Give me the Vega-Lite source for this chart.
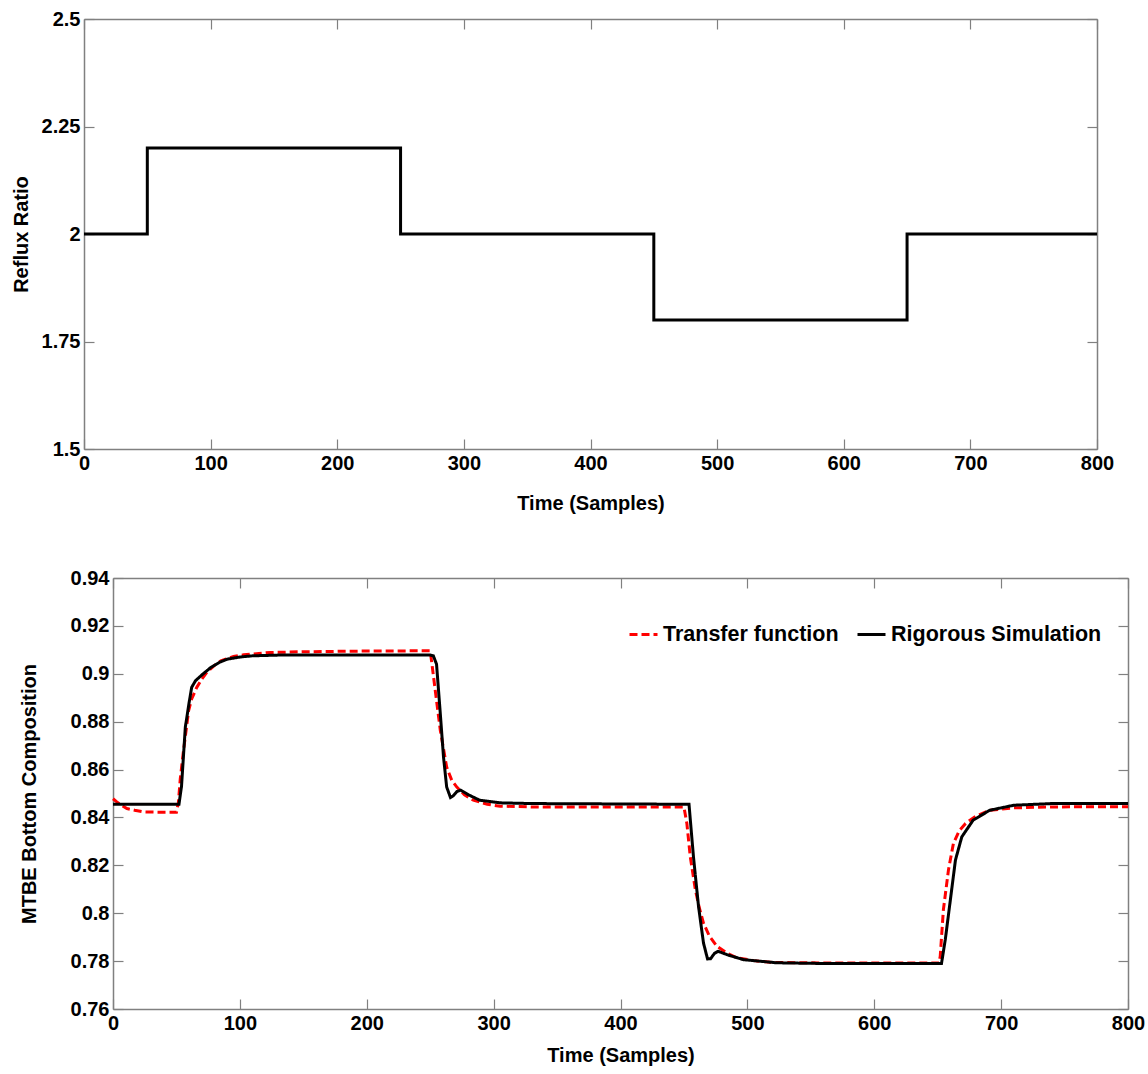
{
  "$schema": "https://vega.github.io/schema/vega-lite/v6.json",
  "background": "white",
  "width": 1148,
  "height": 1074,
  "autosize": {"type": "none"},
  "padding": 0,
  "datasets": {
    "reflux": [
      {"t": 0, "r": 2.0}, {"t": 50, "r": 2.2}, {"t": 250, "r": 2.0}, {"t": 450, "r": 1.8}, {"t": 650, "r": 2.0}, {"t": 800, "r": 2.0}
    ],
    "tf": [
      {"t": 0, "v": 0.8478, "s": "Transfer function"}, {"t": 3, "v": 0.8465, "s": "Transfer function"}, {"t": 7, "v": 0.845, "s": "Transfer function"},
      {"t": 11, "v": 0.8437, "s": "Transfer function"}, {"t": 17, "v": 0.843, "s": "Transfer function"}, {"t": 24, "v": 0.8423, "s": "Transfer function"},
      {"t": 35, "v": 0.8422, "s": "Transfer function"}, {"t": 50, "v": 0.8422, "s": "Transfer function"}, {"t": 51.5, "v": 0.846, "s": "Transfer function"},
      {"t": 53, "v": 0.856, "s": "Transfer function"}, {"t": 55.6, "v": 0.868, "s": "Transfer function"}, {"t": 59.6, "v": 0.8846, "s": "Transfer function"},
      {"t": 62, "v": 0.8895, "s": "Transfer function"}, {"t": 66, "v": 0.8943, "s": "Transfer function"}, {"t": 70, "v": 0.8978, "s": "Transfer function"},
      {"t": 74, "v": 0.9006, "s": "Transfer function"}, {"t": 80, "v": 0.9035, "s": "Transfer function"}, {"t": 85, "v": 0.9054, "s": "Transfer function"},
      {"t": 95, "v": 0.9072, "s": "Transfer function"}, {"t": 103, "v": 0.9079, "s": "Transfer function"}, {"t": 115, "v": 0.9085, "s": "Transfer function"},
      {"t": 124, "v": 0.9089, "s": "Transfer function"}, {"t": 150, "v": 0.9092, "s": "Transfer function"}, {"t": 200, "v": 0.9095, "s": "Transfer function"},
      {"t": 250, "v": 0.9096, "s": "Transfer function"}, {"t": 251.4, "v": 0.904, "s": "Transfer function"}, {"t": 254, "v": 0.893, "s": "Transfer function"},
      {"t": 258, "v": 0.8763, "s": "Transfer function"}, {"t": 263, "v": 0.861, "s": "Transfer function"}, {"t": 267, "v": 0.8555, "s": "Transfer function"},
      {"t": 271, "v": 0.8527, "s": "Transfer function"}, {"t": 277, "v": 0.8495, "s": "Transfer function"}, {"t": 284, "v": 0.8472, "s": "Transfer function"},
      {"t": 295, "v": 0.8455, "s": "Transfer function"}, {"t": 305, "v": 0.8447, "s": "Transfer function"}, {"t": 330, "v": 0.8444, "s": "Transfer function"},
      {"t": 450, "v": 0.8444, "s": "Transfer function"}, {"t": 452.3, "v": 0.8375, "s": "Transfer function"}, {"t": 455, "v": 0.8236, "s": "Transfer function"},
      {"t": 459, "v": 0.8098, "s": "Transfer function"}, {"t": 462, "v": 0.8025, "s": "Transfer function"}, {"t": 465.4, "v": 0.7959, "s": "Transfer function"},
      {"t": 470, "v": 0.7905, "s": "Transfer function"}, {"t": 476, "v": 0.7862, "s": "Transfer function"}, {"t": 484, "v": 0.7833, "s": "Transfer function"},
      {"t": 491.7, "v": 0.7814, "s": "Transfer function"}, {"t": 505, "v": 0.7802, "s": "Transfer function"}, {"t": 518, "v": 0.7795, "s": "Transfer function"},
      {"t": 560, "v": 0.7792, "s": "Transfer function"}, {"t": 651, "v": 0.7792, "s": "Transfer function"}, {"t": 652, "v": 0.782, "s": "Transfer function"},
      {"t": 654.5, "v": 0.8015, "s": "Transfer function"}, {"t": 658.5, "v": 0.8181, "s": "Transfer function"}, {"t": 662.4, "v": 0.8292, "s": "Transfer function"},
      {"t": 667, "v": 0.8345, "s": "Transfer function"}, {"t": 672, "v": 0.8375, "s": "Transfer function"}, {"t": 680, "v": 0.8405, "s": "Transfer function"},
      {"t": 691, "v": 0.843, "s": "Transfer function"}, {"t": 710, "v": 0.844, "s": "Transfer function"}, {"t": 740, "v": 0.8444, "s": "Transfer function"},
      {"t": 800, "v": 0.8445, "s": "Transfer function"}
    ],
    "rs": [
      {"t": 0, "v": 0.8455, "s": "Rigorous Simulation"}, {"t": 52, "v": 0.8455, "s": "Rigorous Simulation"}, {"t": 54, "v": 0.853, "s": "Rigorous Simulation"},
      {"t": 57, "v": 0.8777, "s": "Rigorous Simulation"}, {"t": 60, "v": 0.888, "s": "Rigorous Simulation"}, {"t": 62, "v": 0.8943, "s": "Rigorous Simulation"},
      {"t": 65, "v": 0.8971, "s": "Rigorous Simulation"}, {"t": 70, "v": 0.8995, "s": "Rigorous Simulation"}, {"t": 77, "v": 0.9026, "s": "Rigorous Simulation"},
      {"t": 84, "v": 0.9048, "s": "Rigorous Simulation"}, {"t": 90, "v": 0.9061, "s": "Rigorous Simulation"}, {"t": 100, "v": 0.907, "s": "Rigorous Simulation"},
      {"t": 110, "v": 0.9075, "s": "Rigorous Simulation"}, {"t": 130, "v": 0.9078, "s": "Rigorous Simulation"}, {"t": 250, "v": 0.9078, "s": "Rigorous Simulation"},
      {"t": 252.5, "v": 0.9075, "s": "Rigorous Simulation"}, {"t": 255, "v": 0.904, "s": "Rigorous Simulation"}, {"t": 258, "v": 0.8832, "s": "Rigorous Simulation"},
      {"t": 260.5, "v": 0.8652, "s": "Rigorous Simulation"}, {"t": 263, "v": 0.8527, "s": "Rigorous Simulation"}, {"t": 266, "v": 0.8483, "s": "Rigorous Simulation"},
      {"t": 268, "v": 0.849, "s": "Rigorous Simulation"}, {"t": 271, "v": 0.8508, "s": "Rigorous Simulation"}, {"t": 274, "v": 0.8514, "s": "Rigorous Simulation"},
      {"t": 280, "v": 0.8495, "s": "Rigorous Simulation"}, {"t": 289, "v": 0.8472, "s": "Rigorous Simulation"}, {"t": 305, "v": 0.8461, "s": "Rigorous Simulation"},
      {"t": 330, "v": 0.8458, "s": "Rigorous Simulation"}, {"t": 454, "v": 0.8455, "s": "Rigorous Simulation"}, {"t": 457.5, "v": 0.8236, "s": "Rigorous Simulation"},
      {"t": 461.5, "v": 0.8028, "s": "Rigorous Simulation"}, {"t": 465.4, "v": 0.7876, "s": "Rigorous Simulation"}, {"t": 468.6, "v": 0.7809, "s": "Rigorous Simulation"},
      {"t": 471, "v": 0.781, "s": "Rigorous Simulation"}, {"t": 474, "v": 0.7832, "s": "Rigorous Simulation"}, {"t": 477, "v": 0.7841, "s": "Rigorous Simulation"},
      {"t": 485, "v": 0.7825, "s": "Rigorous Simulation"}, {"t": 497, "v": 0.7806, "s": "Rigorous Simulation"}, {"t": 523, "v": 0.7793, "s": "Rigorous Simulation"},
      {"t": 560, "v": 0.779, "s": "Rigorous Simulation"}, {"t": 653, "v": 0.779, "s": "Rigorous Simulation"}, {"t": 656, "v": 0.789, "s": "Rigorous Simulation"},
      {"t": 660, "v": 0.8056, "s": "Rigorous Simulation"}, {"t": 664, "v": 0.8222, "s": "Rigorous Simulation"}, {"t": 669, "v": 0.8319, "s": "Rigorous Simulation"},
      {"t": 678, "v": 0.8389, "s": "Rigorous Simulation"}, {"t": 691, "v": 0.843, "s": "Rigorous Simulation"}, {"t": 710, "v": 0.8451, "s": "Rigorous Simulation"},
      {"t": 740, "v": 0.8458, "s": "Rigorous Simulation"}, {"t": 800, "v": 0.8458, "s": "Rigorous Simulation"}
    ]
  },
  "config": {
    "font": "Liberation Sans",
    "view": {"stroke": null},
    "axis": {
      "domain": true, "domainColor": "#808080", "domainWidth": 1.5, "grid": false,
      "labelFont": "Liberation Sans", "labelFontSize": 20, "labelFontWeight": "bold", "labelColor": "black",
      "titleFont": "Liberation Sans", "titleFontSize": 20, "titleFontWeight": "bold", "titleColor": "black",
      "tickColor": "#808080", "tickSize": -10, "tickWidth": 1.2,
      "labelFlush": false, "labelOverlap": false, "labelPadding": 14
    },
    "legend": {
      "orient": "none", "legendX": 628, "legendY": 619, "direction": "horizontal",
      "symbolType": "stroke", "symbolStrokeWidth": 3, "symbolSize": 784,
      "labelFont": "Liberation Sans", "labelFontSize": 21.5, "labelFontWeight": "bold", "labelColor": "black",
      "labelOffset": 4, "labelLimit": 400, "columnPadding": 12, "title": null
    }
  },
  "layer": [
    {
      "data": {"name": "reflux"},
      "mark": {"type": "line", "interpolate": "step-after", "color": "black", "strokeWidth": 3},
      "encoding": {
        "x": {"field": "t", "type": "quantitative", "scale": {"domain": [0, 800], "range": [84, 1097], "nice": false},
              "axis": {"orient": "bottom", "offset": -625, "values": [0, 100, 200, 300, 400, 500, 600, 700, 800], "format": "d", "title": "Time (Samples)", "titlePadding": 20}},
        "y": {"field": "r", "type": "quantitative", "scale": {"domain": [1.5, 2.5], "range": [449, 19], "nice": false, "zero": false},
              "axis": {"orient": "left", "offset": -84, "values": [1.5, 1.75, 2, 2.25, 2.5], "format": ".3~g", "title": "Reflux Ratio", "titlePadding": 10}}
      }
    },
    {
      "data": {"name": "reflux"},
      "mark": {"type": "line", "interpolate": "step-after", "opacity": 0},
      "encoding": {
        "x": {"field": "t", "type": "quantitative", "scale": {"domain": [0, 800], "range": [84, 1097], "nice": false},
              "axis": {"orient": "top", "offset": -19, "values": [0, 100, 200, 300, 400, 500, 600, 700, 800], "labels": false, "title": null}},
        "y": {"field": "r", "type": "quantitative", "scale": {"domain": [1.5, 2.5], "range": [449, 19], "nice": false, "zero": false},
              "axis": {"orient": "right", "offset": -51, "values": [1.5, 1.75, 2, 2.25, 2.5], "labels": false, "title": null}}
      }
    },
    {
      "data": {"name": "tf"},
      "mark": {"type": "line", "strokeWidth": 3},
      "encoding": {
        "x": {"field": "t", "type": "quantitative", "scale": {"domain": [0, 800], "range": [113, 1128], "nice": false},
              "axis": {"orient": "bottom", "offset": -65, "values": [0, 100, 200, 300, 400, 500, 600, 700, 800], "format": "d", "title": "Time (Samples)", "titlePadding": 12}},
        "y": {"field": "v", "type": "quantitative", "scale": {"domain": [0.76, 0.94], "range": [1009, 578], "nice": false, "zero": false},
              "axis": {"orient": "left", "offset": -113, "values": [0.76, 0.78, 0.8, 0.82, 0.84, 0.86, 0.88, 0.9, 0.92, 0.94], "format": ".3~g", "title": "MTBE Bottom Composition", "titlePadding": 31}},
        "color": {"field": "s", "type": "nominal", "scale": {"domain": ["Transfer function", "Rigorous Simulation"], "range": ["#ff0000", "#000000"]}},
        "strokeDash": {"field": "s", "type": "nominal", "scale": {"domain": ["Transfer function", "Rigorous Simulation"], "range": [[8, 4], [1, 0]]}}
      }
    },
    {
      "data": {"name": "rs"},
      "mark": {"type": "line", "strokeWidth": 3},
      "encoding": {
        "x": {"field": "t", "type": "quantitative", "scale": {"domain": [0, 800], "range": [113, 1128], "nice": false}, "axis": null},
        "y": {"field": "v", "type": "quantitative", "scale": {"domain": [0.76, 0.94], "range": [1009, 578], "nice": false, "zero": false}, "axis": null},
        "color": {"field": "s", "type": "nominal"},
        "strokeDash": {"field": "s", "type": "nominal"}
      }
    },
    {
      "data": {"name": "rs"},
      "mark": {"type": "line", "opacity": 0},
      "encoding": {
        "x": {"field": "t", "type": "quantitative", "scale": {"domain": [0, 800], "range": [113, 1128], "nice": false},
              "axis": {"orient": "top", "offset": -578, "values": [0, 100, 200, 300, 400, 500, 600, 700, 800], "labels": false, "title": null}},
        "y": {"field": "v", "type": "quantitative", "scale": {"domain": [0.76, 0.94], "range": [1009, 578], "nice": false, "zero": false},
              "axis": {"orient": "right", "offset": -20, "values": [0.76, 0.78, 0.8, 0.82, 0.84, 0.86, 0.88, 0.9, 0.92, 0.94], "labels": false, "title": null}}
      }
    }
  ],
  "resolve": {"scale": {"x": "independent", "y": "independent"}, "axis": {"x": "independent", "y": "independent"}}
}
